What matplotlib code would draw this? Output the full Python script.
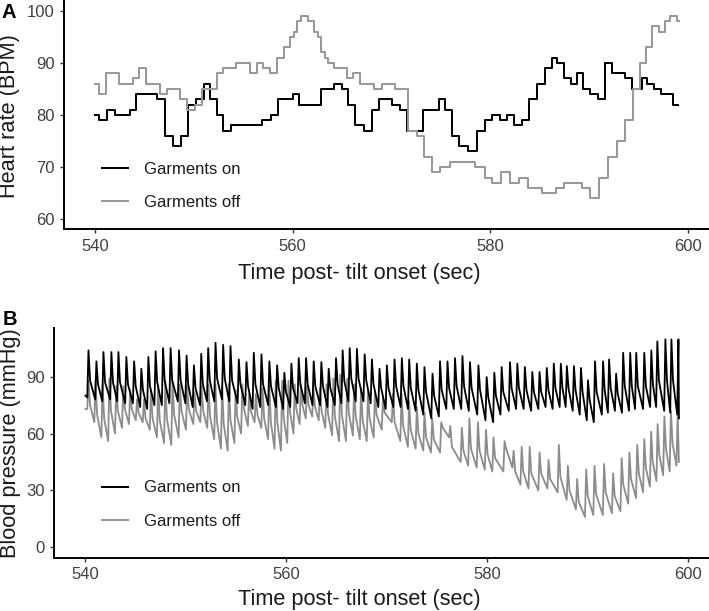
import matplotlib
matplotlib.use("Agg")
import matplotlib.pyplot as plt
from matplotlib.lines import Line2D

plt.rcParams['font.family'] = ['Liberation Sans', 'DejaVu Sans']

# ---------------- Panel A : heart rate (step series) ----------------
hr_on_t = [540.0, 540.4, 541.2, 542.0, 543.5, 544.15, 546.3, 547.1, 547.85, 548.7,
           549.45, 550.2, 551.0, 551.6, 552.3, 553.0, 553.8, 556.9, 557.8, 558.55,
           560.0, 560.6, 562.9, 564.2, 565.0, 565.6, 566.3, 567.2, 568.0, 568.7,
           570.0, 570.8, 571.6, 573.2, 574.75, 575.4, 576.1, 576.8, 577.7, 578.6,
           579.4, 580.2, 581.0, 581.7, 582.4, 583.2, 583.9, 584.7, 585.5, 586.2,
           586.7, 587.4, 588.1, 588.75, 589.4, 590.1, 590.9, 591.6, 592.3, 593.6,
           594.35, 595.3, 595.8, 596.5, 597.2, 598.5, 599.0]
hr_on_v = [80, 79, 81, 80, 81, 84, 83, 76, 74, 76,
           82, 83, 86, 83, 80, 77, 78, 79, 80, 83,
           84, 82, 85, 86, 85, 82, 78, 77, 81, 83,
           82, 81, 77, 81, 83, 81, 76, 74, 73, 77,
           79, 80, 79, 80, 78, 79, 83, 86, 89, 91,
           90, 87, 86, 88, 85, 84, 83, 90, 88, 87,
           85, 87, 86, 85, 84, 82, 82]

hr_off_t = [540.0, 540.4, 541.1, 542.4, 543.8, 544.5, 545.2, 546.6, 547.3, 548.6,
            549.3, 550.1, 550.8, 552.3, 553.0, 554.3, 555.7, 556.4, 557.0, 557.7,
            558.4, 559.1, 559.7, 560.1, 560.4, 560.85, 561.5, 562.2, 562.6, 562.9,
            563.3, 563.55, 564.2, 565.5, 566.1, 566.8, 568.2, 569.0, 570.3, 571.7,
            572.55, 573.3, 574.1, 574.9, 575.9, 578.4, 579.4, 580.15, 581.1, 582.0,
            582.85, 583.8, 585.2, 586.6, 587.4, 589.3, 590.1, 591.0, 591.9, 592.8,
            593.6, 594.4, 595.1, 595.7, 596.3, 597.0, 597.6, 598.2, 598.9, 599.1]
hr_off_v = [86, 84, 88, 86, 87, 89, 86, 84, 85, 83,
            81, 82, 85, 88, 89, 90, 88, 90, 89, 88,
            91, 93, 95, 96, 98, 99, 98, 96, 95, 92,
            91, 90, 89, 87, 88, 86, 85, 86, 85, 77,
            76, 72, 69, 70, 71, 70, 68, 67, 69, 67,
            68, 66, 65, 66, 67, 66, 64, 68, 72, 75,
            79, 85, 90, 93, 97, 96, 98, 99, 98, 98]

# ---------------- Panel B : blood pressure (beat by beat) ----------------
bp_on_start = (540.0, 80)
bp_on_peak_t = [540.3, 541.09, 541.79, 542.58, 543.28, 544.07, 544.84, 545.56, 546.26, 546.98,
                547.72, 548.47, 549.31, 550.06, 550.79, 551.52, 552.21, 552.94, 553.70, 554.43,
                555.26, 556.02, 556.75, 557.51, 558.30, 559.07, 559.79, 560.49, 561.22, 561.95,
                562.71, 563.47, 564.20, 564.93, 565.59, 566.29, 567.01, 567.78, 568.50, 569.26,
                569.99, 570.75, 571.48, 572.21, 572.97, 573.73, 574.53, 575.28, 576.02, 576.77,
                577.51, 578.26, 579.10, 579.92, 580.68, 581.41, 582.24, 582.97, 583.72, 584.46,
                585.18, 585.9, 586.6, 587.3, 587.9, 588.6, 589.3, 590.0, 590.7, 591.5,
                592.1, 592.8, 593.5, 594.2, 594.8, 595.6, 596.3, 596.9, 597.7, 598.3,
                599.0]
bp_on_sys = [103.9, 98.1, 103, 103, 103, 100.4, 98.1, 94.2, 100.4, 103.4,
             105.1, 105.1, 103.9, 101.2, 96, 102.1, 105.1, 107.9, 106.8, 106.2,
             99.1, 97.7, 102.6, 101.8, 98.1, 96, 92.1, 96.9, 99.8, 99.8,
             98.1, 97.7, 94.2, 99.8, 103.9, 105.1, 104.7, 101.8, 99.1, 94.2,
             96, 99.1, 99.8, 99.1, 96.9, 95.1, 91.6, 98.1, 98.1, 99.8,
             100.9, 97.7, 96, 89.8, 92.1, 95.1, 97.7, 96.9, 95.1, 92.5,
             92.5, 94.6, 96.9, 96.9, 95.6, 95.6, 94.6, 88.1, 98.1, 98.1,
             99.1, 91.6, 102.6, 102.6, 102.6, 102.6, 103.9, 108.6, 109.7, 109.7,
             109.7]
bp_on_notch = [88, 86, 87, 87, 87, 86, 85, 83, 85, 87,
               88, 88, 88, 86, 84, 86, 88, 89, 89, 88,
               86, 85, 86, 86, 85, 84, 82, 84, 86, 86,
               85, 85, 84, 86, 88, 89, 89, 88, 86, 84,
               84, 85, 85, 84, 83, 82, 80, 83, 84, 85,
               85, 84, 83, 79, 80, 82, 84, 84, 83, 82,
               82, 83, 84, 84, 84, 83, 82, 78, 82, 83,
               84, 81, 85, 85, 85, 85, 86, 88, 88, 88,
               88]
bp_on_dia = [79, 78, 77, 78, 77, 76, 76, 74, 73, 75,
             75, 76, 77, 76, 74, 75, 77, 77, 78, 77,
             76, 75, 73, 74, 75, 74, 73, 74, 76, 76,
             75, 75, 74, 75, 76, 77, 77, 77, 76, 74,
             73, 74, 74, 73, 72, 70, 68, 69, 73, 73,
             73, 72, 70, 67, 66, 70, 72, 73, 73, 72,
             73, 74, 73, 74, 74, 72, 70, 67, 66, 70,
             71, 72, 71, 72, 73, 73, 74, 74, 72, 71,
             70]
bp_on_end = (599.05, 68)

bp_off_start = (540.0, 73)
bp_off_peak_t = [540.3, 541.0, 541.7, 542.38, 543.06, 543.76, 544.45, 545.13, 545.82, 546.52,
                 547.23, 547.94, 548.66, 549.39, 550.12, 550.85, 551.55, 552.24, 552.93, 553.6,
                 554.27, 554.94, 555.61, 556.28, 556.95, 557.62, 558.29, 558.93, 559.57, 560.2,
                 560.82, 561.43, 562.04, 562.68, 563.33, 563.98, 564.66, 565.35, 566.04, 566.73,
                 567.42, 568.11, 568.8, 569.6, 570.6, 571.45, 572.2, 572.97, 573.73, 574.5,
                 575.4, 576.3, 577.45, 578.2, 579.05, 579.85, 580.6, 581.7, 582.6, 583.4,
                 584.2, 585.18, 586.08, 587.1, 588.0, 588.92, 589.82, 590.65, 591.6, 592.5,
                 593.35, 594.12, 594.9, 595.6, 596.28, 596.93, 597.6, 598.25, 598.92]
bp_off_sys = [88, 88, 86, 89, 85, 85, 83, 78, 78, 83,
              86, 88, 88, 86, 85, 82, 85, 86, 86, 85,
              86, 83, 86, 81, 81, 84, 86, 88, 88, 88,
              86, 86, 85, 84, 84, 86, 89, 91, 89, 86,
              84, 83, 82, 79, 81, 81, 77, 74, 71, 68,
              66, 64, 63, 68, 66, 62, 58, 56, 51, 53,
              53, 50, 46, 54, 43, 36, 41, 43, 44, 39,
              47, 50, 54, 57, 61, 65, 69, 72, 70]
bp_off_notch = [75, 70, 68, 72, 72, 73, 73, 71, 68, 68,
                67, 68, 70, 72, 73, 72, 72, 69, 66, 65,
                67, 69, 73, 72, 70, 68, 66, 66, 68, 71,
                73, 75, 75, 74, 72, 70, 69, 70, 71, 69,
                67, 68, 70, 71, 66, 64, 62, 60, 58, 57,
                63, 53, 51, 52, 51, 49, 47, 52, 40, 40,
                39, 39, 36, 37, 30, 24, 27, 28, 29, 27,
                33, 36, 39, 42, 45, 49, 52, 55, 55]
bp_off_dia = [73, 66, 58, 56, 60, 63, 65, 67, 66, 62,
              58, 55, 54, 58, 62, 65, 66, 63, 57, 52,
              51, 55, 60, 64, 66, 63, 57, 52, 51, 55,
              60, 65, 68, 69, 67, 63, 59, 56, 56, 59,
              57, 56, 58, 62, 66, 56, 53, 52, 51, 50,
              50, 58, 45, 43, 42, 41, 40, 40, 42, 33,
              31, 30, 31, 29, 25, 20, 16, 17, 17, 18,
              19, 23, 26, 29, 32, 35, 38, 40, 43]
bp_off_end = (599.05, 45)

labels = ["Garments on", "Garments off"]
x_ticks = [540, 560, 580, 600]
hr_ticks = [60, 70, 80, 90, 100]
bp_ticks = [0, 30, 60, 90]

COL_ON = "#000000"
COL_OFF = "#999999"
RISE = 0.12   # upstroke duration used to place each beat's foot (style)
FALL = 0.16   # time of fast systolic fall to the notch (style)


def beat_trace(start, peak_t, sys_v, notch_v, dia_v, end):
    xs, ys = [start[0]], [start[1]]
    n = len(peak_t)
    for i in range(n):
        t = peak_t[i]
        xs += [t - RISE, t]
        ys += [dia_v[i], sys_v[i]]
        if i < n - 1:
            xs.append(t + FALL)
            ys.append(notch_v[i])
    xs.append(end[0])
    ys.append(end[1])
    return xs, ys


W, H = 709, 611
fig = plt.figure(figsize=(W / 100, H / 100), dpi=100)

axA = fig.add_axes([64.3 / W, 1 - 229.3 / H, (709 - 64.3) / W, (229.3 + 20.3) / H])
axB = fig.add_axes([54.3 / W, 1 - 557.7 / H, (709.6 - 54.3) / W, 229.3 / H])

axA.plot(hr_on_t, hr_on_v, drawstyle="steps-post", color=COL_ON, lw=1.45)
axA.plot(hr_off_t, hr_off_v, drawstyle="steps-post", color=COL_OFF, lw=1.45)

xo, yo = beat_trace(bp_on_start, bp_on_peak_t, bp_on_sys, bp_on_notch, bp_on_dia, bp_on_end)
xf, yf = beat_trace(bp_off_start, bp_off_peak_t, bp_off_sys, bp_off_notch, bp_off_dia, bp_off_end)
axB.plot(xf, yf, color="#8c8c8c", lw=1.3, zorder=2)
axB.plot(xo, yo, color=COL_ON, lw=1.3, zorder=3)

axA.set_xlim(536.9, 602.1)
axB.set_xlim(536.9, 602.1)
axA.set_ylim(58.08, 105.94)
axB.set_ylim(-5.5, 115.5)
axA.set_yticks(hr_ticks)
axB.set_yticks(bp_ticks)

for ax in (axA, axB):
    ax.set_xticks(x_ticks)
    for s in ("top", "right"):
        ax.spines[s].set_visible(False)
    for s in ("left", "bottom"):
        ax.spines[s].set_linewidth(1.4)
        ax.spines[s].set_color("black")
    ax.tick_params(direction="out", length=3, width=1.0, color="#333333",
                   labelsize=12, labelcolor="#404040", pad=4)
    ax.patch.set_visible(False)

handles = [Line2D([], [], color=COL_ON, lw=1.45), Line2D([], [], color=COL_OFF, lw=1.45)]
for ax, cy in ((axA, 186.0), (axB, 504.5)):
    ax.legend(handles, labels, loc="center left",
              bbox_to_anchor=(101.7 / W, 1 - cy / H), bbox_transform=fig.transFigure,
              frameon=False, fontsize=12, handlelength=1.6, handletextpad=0.94,
              labelspacing=1.1, borderpad=0, borderaxespad=0, labelcolor="#1a1a1a")

fig.text(359 / W, 1 - 278.5 / H, "Time post- tilt onset (sec)", ha="center",
         va="baseline", fontsize=15.7, color="#1a1a1a")
fig.text(359 / W, 1 - 605 / H, "Time post- tilt onset (sec)", ha="center",
         va="baseline", fontsize=15.7, color="#1a1a1a")
fig.text(9.5 / W, 1 - 116.5 / H, "Heart rate (BPM)", rotation=90, ha="center",
         va="center", fontsize=15.7, color="#1a1a1a")
fig.text(10.8 / W, 1 - 442.7 / H, "Blood pressure (mmHg)", rotation=90, ha="center",
         va="center", fontsize=15.7, color="#1a1a1a")
fig.text(2 / W, 1 - 3 / H, "A", fontweight="bold", fontsize=14.5, ha="left", va="top")
fig.text(3 / W, 1 - 310 / H, "B", fontweight="bold", fontsize=14.5, ha="left", va="top")

fig.savefig("out.png", dpi=100)
